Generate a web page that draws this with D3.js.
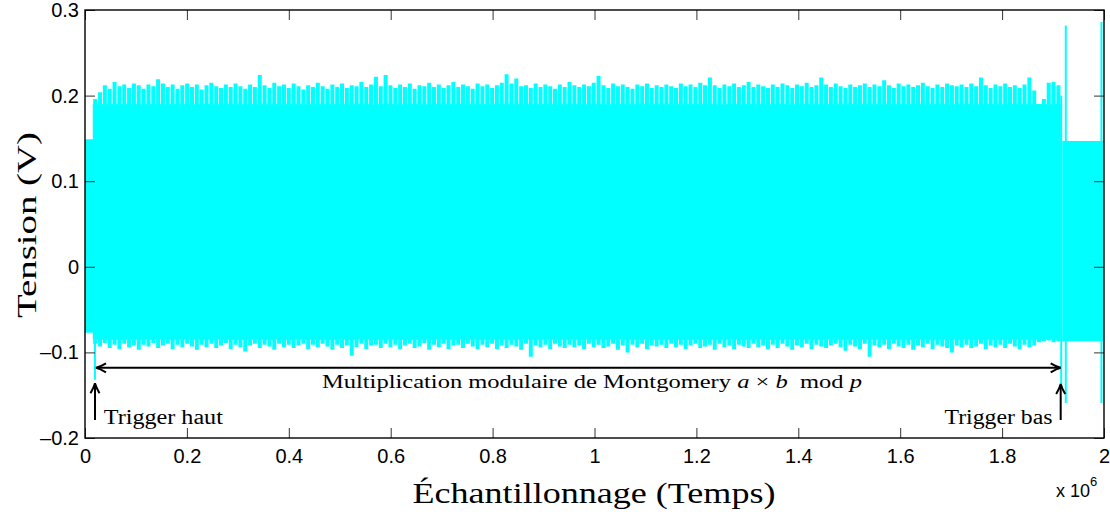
<!DOCTYPE html>
<html>
<head>
<meta charset="utf-8">
<style>
body { margin: 0; background: #fff; }
svg { display: block; }
.axis text { font: 20px "Liberation Sans", Arial, sans-serif; fill: #000; }
.axis line { stroke: #333; }
.axis path { display: none; }
.frame { fill: none; stroke: #000; stroke-width: 1.4; }
.serif { font-family: "Liberation Serif", "Times New Roman", serif; fill: #000; }
.arrow { fill: none; stroke: #000; stroke-width: 2; }
</style>
</head>
<body>
<svg width="1110" height="517"></svg>
<script src="https://cdn.jsdelivr.net/npm/d3@7"></script>
<script>
// ---- data ----
var xTicks = [0, 0.2e6, 0.4e6, 0.6e6, 0.8e6, 1e6, 1.2e6, 1.4e6, 1.6e6, 1.8e6, 2e6];
var xTickLabels = ["0", "0.2", "0.4", "0.6", "0.8", "1", "1.2", "1.4", "1.6", "1.8", "2"];
var yTicks = [-0.2, -0.1, 0, 0.1, 0.2, 0.3];
var yTickLabels = ["\u20130.2", "\u20130.1", "0", "0.1", "0.2", "0.3"];

// main burst (Montgomery multiplication): peak envelope per sample group
var sampleStart = 0.02e6, sampleStep = 0.0095e6;
var peakHi = [
  0.196,0.204,0.212,0.208,0.216,0.211,0.213,0.209,0.214,0.212,0.208,0.213,0.211,0.219,0.214,0.210,0.213,0.208,0.212,0.214,
  0.210,0.213,0.207,0.212,0.215,0.211,0.209,0.213,0.210,0.214,0.211,0.208,0.213,0.210,0.224,0.212,0.209,0.215,0.211,0.213,
  0.209,0.214,0.211,0.207,0.212,0.210,0.215,0.211,0.208,0.213,0.210,0.214,0.209,0.212,0.211,0.216,0.210,0.213,0.222,0.211,
  0.224,0.212,0.209,0.213,0.210,0.214,0.208,0.212,0.211,0.215,0.210,0.213,0.209,0.212,0.216,0.210,0.213,0.211,0.208,0.214,
  0.211,0.213,0.209,0.212,0.215,0.225,0.214,0.220,0.211,0.212,0.209,0.214,0.210,0.213,0.211,0.208,0.213,0.210,0.216,0.212,
  0.210,0.213,0.211,0.215,0.223,0.212,0.209,0.214,0.211,0.213,0.210,0.208,0.213,0.211,0.214,0.209,0.212,0.210,0.213,0.211,
  0.209,0.214,0.211,0.213,0.210,0.215,0.212,0.221,0.212,0.209,0.213,0.211,0.214,0.210,0.212,0.216,0.210,0.213,0.211,0.209,
  0.213,0.210,0.214,0.212,0.209,0.213,0.211,0.215,0.210,0.212,0.221,0.213,0.210,0.214,0.211,0.209,0.213,0.210,0.212,0.214,
  0.210,0.213,0.211,0.218,0.212,0.209,0.214,0.211,0.213,0.210,0.212,0.215,0.211,0.209,0.213,0.210,0.214,0.212,0.211,0.213,
  0.210,0.214,0.211,0.221,0.212,0.209,0.213,0.211,0.214,0.210,0.212,0.209,0.213,0.221,0.206,0.190,0.196,0.215,0.216,0.212
];
var peakLo = [
  -0.090,-0.093,-0.089,-0.095,-0.091,-0.096,-0.090,-0.094,-0.092,-0.097,-0.091,-0.093,-0.089,-0.095,-0.092,-0.090,-0.096,-0.091,-0.094,-0.090,
  -0.093,-0.097,-0.091,-0.094,-0.090,-0.095,-0.092,-0.089,-0.096,-0.091,-0.094,-0.099,-0.092,-0.090,-0.095,-0.091,-0.093,-0.097,-0.090,-0.094,
  -0.091,-0.095,-0.092,-0.090,-0.096,-0.091,-0.094,-0.090,-0.093,-0.097,-0.091,-0.095,-0.092,-0.104,-0.094,-0.090,-0.096,-0.092,-0.091,-0.095,
  -0.090,-0.094,-0.091,-0.096,-0.092,-0.090,-0.095,-0.093,-0.089,-0.097,-0.091,-0.094,-0.090,-0.096,-0.092,-0.091,-0.095,-0.090,-0.093,-0.096,
  -0.091,-0.094,-0.090,-0.096,-0.092,-0.095,-0.091,-0.093,-0.097,-0.090,-0.105,-0.092,-0.094,-0.091,-0.096,-0.090,-0.093,-0.095,-0.091,-0.094,
  -0.092,-0.096,-0.090,-0.094,-0.091,-0.095,-0.093,-0.090,-0.097,-0.092,-0.100,-0.091,-0.094,-0.090,-0.096,-0.092,-0.093,-0.091,-0.095,-0.090,
  -0.094,-0.091,-0.096,-0.092,-0.090,-0.095,-0.093,-0.091,-0.097,-0.090,-0.094,-0.092,-0.096,-0.091,-0.093,-0.095,-0.090,-0.094,-0.092,-0.096,
  -0.091,-0.095,-0.090,-0.093,-0.097,-0.092,-0.094,-0.090,-0.096,-0.091,-0.093,-0.095,-0.092,-0.090,-0.094,-0.098,-0.091,-0.093,-0.096,-0.090,
  -0.105,-0.092,-0.094,-0.091,-0.096,-0.090,-0.093,-0.095,-0.091,-0.097,-0.092,-0.094,-0.090,-0.096,-0.091,-0.093,-0.095,-0.100,-0.092,-0.094,
  -0.091,-0.095,-0.093,-0.090,-0.096,-0.092,-0.094,-0.091,-0.095,-0.090,-0.093,-0.096,-0.091,-0.094,-0.092,-0.088,-0.087,-0.086,-0.088,-0.087
];
var burstCore = [-0.085, 0.190];   // solid part of the burst

// quieter signal before and after the burst: [start, end, lo, hi]
var quietParts = [
  [0, 0.0185e6, -0.077, 0.149],
  [1.918e6, 2e6, -0.087, 0.147]
];
// isolated glitches: [x, lo, hi]
var glitches = [
  [0.0195e6, -0.132, 0.150],
  [1.916e6, -0.142, 0.200],
  [1.925e6, -0.159, 0.282],
  [1.995e6, -0.159, 0.286]
];

// annotations (data coordinates)
var spanArrow = { x0: 0.0216e6, x1: 1.915e6, y: -0.118 };
var triggerArrows = [
  { x: 0.0196e6, y0: -0.179, y1: -0.136, label: "Trigger haut", lx: 0.037e6, anchor: "start", width: 119 },
  { x: 1.915e6, y0: -0.179, y1: -0.137, label: "Trigger bas", lx: 1.899e6, anchor: "end", width: 108 }
];
var labelY = -0.1836;

// ---- chart ----
var svg = d3.select("svg");
var x = d3.scaleLinear().domain([0, 2e6]).range([85, 1104]);
var y = d3.scaleLinear().domain([-0.2, 0.3]).range([438, 10]);

svg.append("clipPath").attr("id", "plotclip")
  .append("rect").attr("x", 85).attr("y", 10).attr("width", 1019).attr("height", 428);

var sig = svg.append("g").attr("clip-path", "url(#plotclip)");
var cyan = "#00ffff";

// solid core of the burst
var lastX = sampleStart + (peakHi.length - 1) * sampleStep;
sig.append("rect")
  .attr("x", x(sampleStart - sampleStep / 2))
  .attr("width", x(lastX + sampleStep / 2) - x(sampleStart - sampleStep / 2))
  .attr("y", y(burstCore[1]))
  .attr("height", y(burstCore[0]) - y(burstCore[1]))
  .attr("fill", cyan);

// peak columns
sig.selectAll("line.peak")
  .data(peakHi.map(function(h, i) { return { t: sampleStart + i * sampleStep, hi: h, lo: peakLo[i] }; }))
  .enter().append("line")
  .attr("class", "peak")
  .attr("x1", function(d) { return x(d.t); })
  .attr("x2", function(d) { return x(d.t); })
  .attr("y1", function(d) { return y(d.hi); })
  .attr("y2", function(d) { return y(d.lo); })
  .attr("stroke", cyan)
  .attr("stroke-width", 4);

// quiet parts
sig.selectAll("rect.quiet")
  .data(quietParts)
  .enter().append("rect")
  .attr("class", "quiet")
  .attr("x", function(d) { return x(d[0]); })
  .attr("width", function(d) { return x(d[1]) - x(d[0]); })
  .attr("y", function(d) { return y(d[3]); })
  .attr("height", function(d) { return y(d[2]) - y(d[3]); })
  .attr("fill", cyan);

// glitches
sig.selectAll("line.glitch")
  .data(glitches)
  .enter().append("line")
  .attr("class", "glitch")
  .attr("x1", function(d) { return x(d[0]); })
  .attr("x2", function(d) { return x(d[0]); })
  .attr("y1", function(d) { return y(d[2]); })
  .attr("y2", function(d) { return y(d[1]); })
  .attr("stroke", cyan)
  .attr("stroke-width", 2);

// axes: ticks inward on all four sides
var i2l = function(arr, labels) { return function(d) { return labels[arr.indexOf(d)]; }; };
svg.append("g").attr("class", "axis")
  .attr("transform", "translate(0,438)")
  .call(d3.axisBottom(x).tickValues(xTicks).tickFormat(i2l(xTicks, xTickLabels)).tickSize(-10).tickPadding(11));
svg.append("g").attr("class", "axis")
  .attr("transform", "translate(0,10)")
  .call(d3.axisTop(x).tickValues(xTicks).tickFormat("").tickSize(-10));
svg.append("g").attr("class", "axis")
  .attr("transform", "translate(85,0)")
  .call(d3.axisLeft(y).tickValues(yTicks).tickFormat(i2l(yTicks, yTickLabels)).tickSize(-10).tickPadding(6));
svg.append("g").attr("class", "axis")
  .attr("transform", "translate(1104,0)")
  .call(d3.axisRight(y).tickValues(yTicks).tickFormat("").tickSize(-10));

svg.append("rect").attr("class", "frame")
  .attr("x", 85).attr("y", 10).attr("width", 1019).attr("height", 428);

// exponent
var ex = svg.append("text").attr("x", 1056).attr("y", 497)
  .style("font", "18px 'Liberation Sans', Arial, sans-serif");
ex.append("tspan").text("x 10");
ex.append("tspan").attr("dy", -11).style("font-size", "13px").text("6");

// arrowhead helper (LaTeX-like barbs)
function head(px, py, angle) {
  svg.append("path")
    .attr("class", "arrow")
    .attr("stroke-width", 1.6)
    .attr("d", "M-10,-4.5 Q-4,-1 0,0 Q-4,1 -10,4.5")
    .attr("transform", "translate(" + px + "," + py + ") rotate(" + angle + ")");
}

// span arrow
svg.append("line").attr("class", "arrow")
  .attr("x1", x(spanArrow.x0) + 1).attr("x2", x(spanArrow.x1) - 1)
  .attr("y1", y(spanArrow.y)).attr("y2", y(spanArrow.y));
head(x(spanArrow.x0), y(spanArrow.y), 180);
head(x(spanArrow.x1), y(spanArrow.y), 0);

var mt = svg.append("text").attr("class", "serif")
  .attr("x", x(0.995e6)).attr("y", y(-0.1416))
  .attr("text-anchor", "middle")
  .attr("textLength", 540).attr("lengthAdjust", "spacingAndGlyphs")
  .style("font-size", "19px");
mt.append("tspan").text("Multiplication modulaire de Montgomery ");
mt.append("tspan").style("font-style", "italic").text("a");
mt.append("tspan").text(" \u00d7 ");
mt.append("tspan").style("font-style", "italic").text("b");
mt.append("tspan").text("\u2002mod ");
mt.append("tspan").style("font-style", "italic").text("p");

// trigger arrows
triggerArrows.forEach(function(a) {
  svg.append("line").attr("class", "arrow")
    .attr("x1", x(a.x)).attr("x2", x(a.x))
    .attr("y1", y(a.y0)).attr("y2", y(a.y1) + 1);
  head(x(a.x), y(a.y1), -90);
  svg.append("text").attr("class", "serif")
    .attr("x", x(a.lx)).attr("y", y(labelY))
    .attr("text-anchor", a.anchor)
    .attr("textLength", a.width).attr("lengthAdjust", "spacingAndGlyphs")
    .style("font-size", "20px")
    .text(a.label);
});

// axis titles
svg.append("text").attr("class", "serif")
  .attr("x", 594).attr("y", 503)
  .attr("text-anchor", "middle")
  .attr("textLength", 363).attr("lengthAdjust", "spacingAndGlyphs")
  .style("font-size", "30px")
  .text("\u00c9chantillonnage (Temps)");
svg.append("text").attr("class", "serif")
  .attr("transform", "translate(36,225) rotate(-90)")
  .attr("text-anchor", "middle")
  .attr("textLength", 186).attr("lengthAdjust", "spacingAndGlyphs")
  .style("font-size", "28px")
  .text("Tension (V)");
</script>
</body>
</html>
